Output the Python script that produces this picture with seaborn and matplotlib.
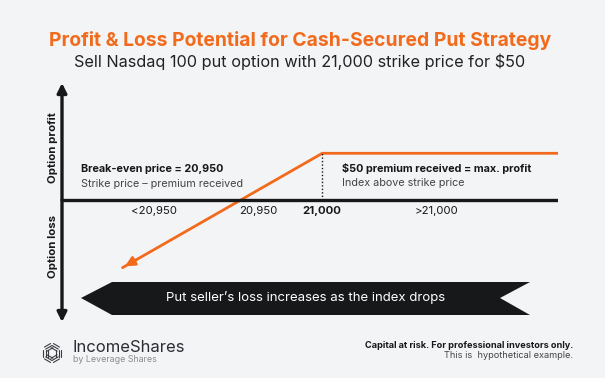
import numpy as np
import pandas as pd
import seaborn as sns
from matplotlib import pyplot as plt
from matplotlib.patches import Polygon

# payoff of the short put (strike 21,000, premium $50)
index_level = [20878, 21000, 21145]
profit = [-72, 50, 50]
strike = 21000
break_even = 20950

tick_pos = [20897, 20961, 21000, 21070]
tick_text = ["<20,950", "20,950", "21,000", ">21,000"]

title = "Profit & Loss Potential for Cash-Secured Put Strategy"
subtitle = "Sell Nasdaq 100 put option with 21,000 strike price for $50"

ORANGE = "#F26A1B"
DARK = "#16181A"
BG = "#F3F4F6"

sns.set_style("white")
plt.rcParams["font.family"] = ["Inter", "DejaVu Sans"]

fig = plt.figure(figsize=(6.05, 3.78), dpi=100, facecolor=BG)

# full-figure canvas in pixel coordinates for text and decorations
bg = fig.add_axes([0, 0, 1, 1])
bg.set_xlim(0, 605)
bg.set_ylim(378, 0)
bg.axis("off")
bg.patch.set_alpha(0)

# payoff chart
ax = fig.add_axes([62 / 605, 1 - 322 / 378, (558 - 62) / 605, (322 - 83) / 378])
ax.patch.set_alpha(0)
x0, x1 = 20841, 21144
y0, y1 = -130, 125
ax.set_xlim(x0, x1)
ax.set_ylim(y0, y1)
ax.axis("off")

df = pd.DataFrame({"index": index_level, "pnl": profit})
sns.lineplot(data=df, x="index", y="pnl", color=ORANGE, linewidth=2.0, ax=ax)
ax.annotate("", xy=(index_level[0], profit[0]), xytext=(index_level[0] + 10, profit[0] + 10),
            arrowprops=dict(arrowstyle="-|>", color=ORANGE, lw=2.0, mutation_scale=14))

# axes
ax.plot([x0, x1], [0, 0], color=DARK, lw=2.4, solid_capstyle="butt")
ax.annotate("", xy=(x0, y1), xytext=(x0, 0),
            arrowprops=dict(arrowstyle="-|>", color=DARK, lw=2.4, mutation_scale=14, shrinkA=0, shrinkB=0))
ax.annotate("", xy=(x0, y0), xytext=(x0, 0),
            arrowprops=dict(arrowstyle="-|>", color=DARK, lw=2.4, mutation_scale=14, shrinkA=0, shrinkB=0))
ax.plot([strike, strike], [0, profit[-1]], color=DARK, lw=1.0, ls=(0, (1, 1.5)))

for pos, txt in zip(tick_pos, tick_text):
    ax.text(pos, -12, txt, ha="center", va="center", fontsize=8.2,
            fontweight="bold" if txt == "21,000" else "normal", color=DARK)

# annotations
bg.text(81, 169, "Break-even price = 20,950", fontsize=7.8, fontweight="bold", color=DARK, va="center")
bg.text(81, 184, "Strike price \u2013 premium received", fontsize=7.8, color="#444", va="center")
bg.text(342, 169, "$50 premium received = max. profit", fontsize=7.8, fontweight="bold", color=DARK, va="center")
bg.text(342, 183, "Index above strike price", fontsize=7.8, color="#444", va="center")

bg.text(53, 148, "Option profit", rotation=90, fontsize=8.2, fontweight="bold", color=DARK, ha="center", va="center")
bg.text(53, 246, "Option loss", rotation=90, fontsize=8.2, fontweight="bold", color=DARK, ha="center", va="center")

# titles
bg.text(300, 41, title, ha="center", va="center", fontsize=13.9, fontweight="bold", color=ORANGE)
bg.text(300, 62, subtitle, ha="center", va="center", fontsize=11.7, color="#222")

# banner
banner = Polygon([(81, 298), (112, 282), (530, 282), (500, 298), (530, 315), (112, 315)],
                 closed=True, facecolor=DARK, edgecolor="none")
bg.add_patch(banner)
bg.text(306, 298, "Put seller\u2019s loss increases as the index drops", ha="center", va="center",
        fontsize=9.5, color="white")

# footer logo: stacked diagonal strokes around a hexagon
cx, cy = 52, 353
for k in range(6):
    ang = np.deg2rad(60 * k)
    for s in (-2.4, 0, 2.4):
        px, py = cx + 6.5 * np.cos(ang), cy + 6.5 * np.sin(ang)
        dx, dy = np.cos(ang + np.pi / 2), np.sin(ang + np.pi / 2)
        ox, oy = s * np.cos(ang), s * np.sin(ang)
        bg.plot([px + ox - 3.5 * dx, px + ox + 3.5 * dx], [py + oy - 3.5 * dy, py + oy + 3.5 * dy],
                color="#3A3D42", lw=0.8)
bg.text(73, 347, "IncomeShares", fontsize=12, color="#2A2D33", va="center")
bg.text(73, 360, "by Leverage Shares", fontsize=6.4, color="#8A8D92", va="center")

bg.text(573, 345, "Capital at risk. For professional investors only.", ha="right", va="center",
        fontsize=6.6, fontweight="bold", color=DARK)
bg.text(573, 356, "This is  hypothetical example.", ha="right", va="center", fontsize=6.6, color="#444")

fig.savefig("out.png", dpi=100, facecolor=BG)
